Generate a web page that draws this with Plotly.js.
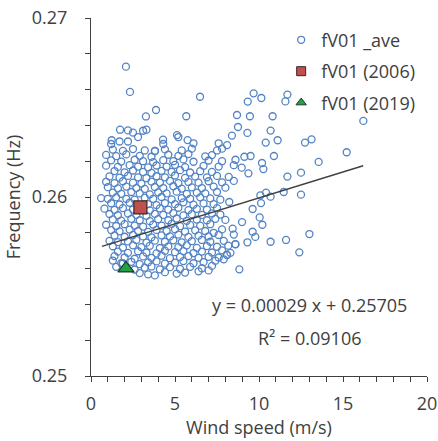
<!DOCTYPE html>
<html>
<head>
<meta charset="utf-8">
<script src="https://cdn.plot.ly/plotly-3.0.1.min.js"></script>
<style>html,body{margin:0;padding:0;background:#fff;}#chart{width:438px;height:441px;}</style>
</head>
<body>
<div id="chart"></div>
<script>
// fV01 _ave : wind speed (m/s) vs frequency (Hz)
const windSpeed = [
2.9,3.4,3.8,4.4,5.1,5.6,6.4,7.0,
1.5,1.9,2.6,3.2,3.6,4.1,4.7,5.3,5.9,6.6,7.2,
1.3,1.8,2.4,2.9,3.4,3.9,4.4,5.0,5.5,6.1,6.7,7.4,7.9,
1.4,2.0,2.6,3.1,3.6,4.2,4.7,5.3,5.8,6.4,7.0,7.6,8.1,
1.6,2.2,2.8,3.3,3.9,4.4,5.0,5.5,6.1,6.6,7.2,7.8,8.3,
1.3,1.9,2.5,3.0,3.5,4.1,4.6,5.2,5.7,6.3,6.9,7.5,8.6,
1.1,1.6,2.2,2.7,3.3,3.8,4.4,4.9,5.4,6.0,6.6,7.1,7.9,
1.4,2.0,2.5,3.1,3.6,4.2,4.7,5.2,5.8,6.4,7.0,7.6,8.5,
1.2,1.7,2.3,2.8,3.4,3.9,4.5,5.0,5.6,6.2,6.8,7.3,
0.9,1.5,2.0,2.6,3.1,3.7,4.2,4.8,5.3,5.9,6.5,7.1,
1.3,1.8,2.4,2.9,3.5,4.0,4.6,5.1,5.7,6.3,6.9,7.4,8.0,
1.1,1.6,2.2,2.7,3.3,3.8,4.3,4.9,5.5,6.0,6.6,7.2,7.7,
0.8,1.4,1.9,2.5,3.5,4.1,4.6,5.2,5.8,6.3,6.9,7.5,
1.2,1.7,2.3,3.4,3.9,4.4,5.0,5.5,6.1,6.7,7.3,
0.6,1.0,1.5,2.1,2.6,3.2,3.7,4.2,4.8,5.4,5.9,6.5,7.1,7.7,
1.3,1.8,2.4,2.9,3.5,4.0,4.5,5.1,5.7,6.3,6.8,7.5,
1.0,1.6,2.1,2.7,3.2,3.8,4.3,4.9,5.4,6.0,6.6,7.3,8.0,
0.9,1.4,1.9,2.5,3.0,3.6,4.1,4.7,5.2,5.8,6.4,7.0,7.8,8.5,
1.1,1.7,2.2,2.8,3.3,3.9,4.4,5.0,5.6,6.2,6.9,7.5,8.2,
1.4,2.0,2.5,3.1,3.6,4.2,4.8,5.3,5.9,6.5,7.2,
0.9,1.6,2.3,2.8,3.4,3.9,4.5,5.0,5.6,6.7,7.6,8.5,
1.2,1.8,2.6,3.1,3.7,4.3,4.9,5.5,6.1,7.0,7.8,8.6,
0.9,1.5,2.1,2.9,3.6,4.6,5.2,5.8,6.8,7.2,
1.3,1.9,2.5,3.2,3.8,4.4,5.4,6.0,7.5,7.8,
1.2,1.7,2.2,2.8,4.3,5.2,6.1,7.6,8.1,
1.73,2.2,2.5,3.1,3.3,1.23,4.29,5.12,5.75,6.49,3.27,3.87,2.08,2.32,5.67,3.81,
9.68,10.14,9.33,11.69,11.57,8.69,9.46,10.81,16.21,8.75,
8.39,9.31,10.69,10.40,11.11,12.74,13.13,15.22,13.55,10.89,
9.50,9.13,10.18,10.26,9.37,8.97,11.69,12.50,12.50,11.47,
10.69,10.42,10.08,10.12,9.62,10.04,10.20,8.99,9.62,9.78,
9.31,10.69,11.61,13.0,12.40,8.83,8.59,8.17,8.08,8.43,
7.80,8.23
];
const frequency = [
0.25575,0.25568,0.25562,0.2558,0.25572,0.25578,0.25585,0.2559,
0.2561,0.2563,0.25595,0.25605,0.25612,0.25596,0.25608,0.25598,0.2561,0.25602,0.25615,
0.25645,0.2563,0.25638,0.25625,0.25635,0.2564,0.25628,0.25633,0.25642,0.2563,0.25636,0.25644,0.25652,
0.2567,0.25662,0.25655,0.25668,0.2566,0.25672,0.25658,0.25665,0.2567,0.2566,0.25666,0.25662,0.25675,
0.25695,0.25688,0.25697,0.2569,0.25685,0.257,0.25692,0.25698,0.25687,0.25695,0.2569,0.25702,0.25688,
0.25725,0.25718,0.2573,0.2572,0.25727,0.25715,0.25724,0.2572,0.2573,0.25716,0.25726,0.25722,0.25735,
0.25755,0.25748,0.25752,0.2576,0.25745,0.25756,0.2575,0.25758,0.25747,0.25753,0.2576,0.2575,0.25755,
0.25785,0.25778,0.25788,0.2578,0.25775,0.25786,0.2578,0.2579,0.25777,0.25784,0.2578,0.25788,0.2579,
0.25815,0.25808,0.25818,0.2581,0.25805,0.25816,0.2581,0.2582,0.25807,0.25814,0.2581,0.258,
0.25845,0.25838,0.25848,0.2584,0.25835,0.25846,0.2584,0.2585,0.25837,0.25844,0.2584,0.25848,
0.25875,0.25868,0.25878,0.2587,0.25865,0.25876,0.2587,0.2588,0.25867,0.25874,0.2587,0.25878,0.25872,
0.25905,0.25898,0.25908,0.259,0.25895,0.25906,0.259,0.2591,0.25897,0.25904,0.259,0.25908,0.25902,
0.25935,0.25928,0.25938,0.2593,0.25925,0.25936,0.2593,0.2594,0.25927,0.25934,0.2593,0.25938,
0.25965,0.25958,0.25968,0.2596,0.25955,0.25966,0.2596,0.2597,0.25957,0.25964,0.2596,
0.25994,0.2599,0.25998,0.2599,0.25985,0.25996,0.2599,0.26,0.25987,0.25994,0.2599,0.25998,0.25992,0.25985,
0.26025,0.26018,0.26028,0.2602,0.26015,0.26026,0.2602,0.2603,0.26017,0.26024,0.2602,0.26028,
0.26055,0.26048,0.26058,0.2605,0.26045,0.26056,0.2605,0.2606,0.26047,0.26054,0.2605,0.26058,0.26052,
0.26085,0.26078,0.26088,0.2608,0.26075,0.26086,0.2608,0.2609,0.26077,0.26084,0.2608,0.26088,0.26082,0.2609,
0.26115,0.26108,0.26118,0.2611,0.26105,0.26116,0.2611,0.2612,0.26107,0.26114,0.2611,0.26118,0.26112,
0.26145,0.26138,0.26148,0.2614,0.26135,0.26146,0.2614,0.2615,0.26137,0.26144,0.2614,
0.26175,0.26168,0.26178,0.2617,0.26165,0.26176,0.2617,0.2618,0.26167,0.26174,0.2617,0.26178,
0.26205,0.26198,0.26208,0.262,0.26195,0.26206,0.262,0.2621,0.26197,0.26204,0.262,0.26208,
0.26235,0.26228,0.26238,0.2623,0.26225,0.26236,0.2623,0.2624,0.26227,0.26234,
0.26265,0.26258,0.26268,0.2626,0.26257,0.26266,0.2626,0.2627,0.2626,0.2627,
0.26296,0.2631,0.2631,0.26335,0.26296,0.26335,0.263,0.263,0.2629,
0.26376,0.26372,0.2636,0.2637,0.26376,0.26317,0.2632,0.26346,0.26318,0.2656,0.2645,0.26486,0.26728,0.26587,0.26451,0.26257,
0.26579,0.26553,0.26533,0.26572,0.26534,0.26458,0.26451,0.26451,0.26425,0.26391,
0.26343,0.26358,0.26371,0.26304,0.26317,0.26304,0.26322,0.2625,0.26196,0.26229,
0.26229,0.26225,0.2619,0.26156,0.26132,0.26164,0.26114,0.26136,0.26013,0.26028,
0.26002,0.26024,0.26009,0.25966,0.25933,0.25886,0.25845,0.2586,0.25806,0.25777,
0.25747,0.2575,0.2576,0.25793,0.25691,0.25596,0.25737,0.25728,0.25678,0.25823,
0.25819,0.25972
];
// single-year values
const wind2006 = [2.94];
const freq2006 = [0.25942];
const wind2019 = [2.08];
const freq2019 = [0.25601];
// linear trendline y = 0.00029 x + 0.25705 (endpoints)
const trendX = [0.65, 16.2];
const trendY = [0.257239, 0.261748];
const seriesNames = ['fV01 _ave', 'fV01 (2006)', 'fV01 (2019)'];
const xTickVals = [0,1,2,3,4,5,6,7,8,9,10,11,12,13,14,15,16,17,18,19,20];
const xTickText = ['0','','','','','5','','','','','10','','','','','15','','','','','20'];
const yTickVals = [0.25,0.252,0.254,0.256,0.258,0.26,0.262,0.264,0.266,0.268,0.27];
const yTickText = ['0.25','','','','','0.26','','','','','0.27'];

const FONT = 'Open Sans, Noto Sans, sans-serif';
const TXT = '#404040';

const traces = [
  {x: windSpeed, y: frequency, type: 'scatter', mode: 'markers', name: seriesNames[0],
   marker: {symbol: 'circle-open', size: 7, color: '#5283c4', line: {width: 1.3}}, legendgroup: 'a'},
  {x: trendX, y: trendY, type: 'scatter', mode: 'lines', showlegend: false,
   line: {color: '#404040', width: 1.4}},
  {x: [null], y: [null], type: 'scatter', mode: 'markers', name: seriesNames[1], legendgroup: 'b',
   marker: {symbol: 'square', size: 9, color: '#c0504d', line: {color: '#3a2626', width: 1}}},
  {x: [null], y: [null], type: 'scatter', mode: 'markers', name: seriesNames[2], legendgroup: 'c',
   marker: {symbol: 'triangle-up', size: 9, color: '#22a04a', line: {color: '#1f3a24', width: 1}}},
  {x: wind2006, y: freq2006, type: 'scatter', mode: 'markers', showlegend: false,
   marker: {symbol: 'square', size: 13, color: '#c0504d', line: {color: '#3a2626', width: 1.2}}},
  {x: wind2019, y: freq2019, type: 'scatter', mode: 'markers', showlegend: false,
   marker: {symbol: 'triangle-up', size: 14, color: '#22a04a', line: {color: '#1f3a24', width: 1.2}}}
];

const layout = {
  width: 438, height: 441,
  margin: {l: 91, r: 11, t: 18, b: 65, pad: 0},
  paper_bgcolor: '#fff', plot_bgcolor: '#fff',
  font: {family: FONT, color: TXT, size: 18},
  showlegend: true,
  legend: {x: 0.566, y: 0.99, xanchor: 'left', yanchor: 'top', bgcolor: 'rgba(0,0,0,0)',
           font: {family: FONT, size: 18, color: TXT}, itemwidth: 30, tracegroupgap: 5},
  xaxis: {range: [0, 20], showgrid: false, zeroline: false, showline: true, linecolor: '#404040', linewidth: 1,
          ticks: 'outside', ticklen: 5, tickcolor: '#404040', tickvals: xTickVals, ticktext: xTickText,
          tickfont: {size: 18, color: TXT}, ticklabelstandoff: 6,
          title: {text: 'Wind speed (m/s)', font: {size: 18, color: TXT}, standoff: 6}},
  yaxis: {range: [0.25, 0.27], showgrid: false, zeroline: false, showline: true, linecolor: '#404040', linewidth: 1,
          ticks: 'outside', ticklen: 5, tickcolor: '#404040', tickvals: yTickVals, ticktext: yTickText,
          tickfont: {size: 18, color: TXT}, ticklabelstandoff: 14,
          title: {text: 'Frequency (Hz)', font: {size: 18, color: TXT}, standoff: 6}},
  annotations: [
    {xref: 'paper', yref: 'paper', x: 0.649, y: 0.198, xanchor: 'center', yanchor: 'middle', showarrow: false,
     text: 'y = 0.00029 x + 0.25705', font: {size: 18, color: TXT, family: FONT}},
    {xref: 'paper', yref: 'paper', x: 0.652, y: 0.106, xanchor: 'center', yanchor: 'middle', showarrow: false,
     text: 'R² = 0.09106', font: {size: 18, color: TXT, family: FONT}}
  ]
};

Plotly.newPlot('chart', traces, layout, {displayModeBar: false, staticPlot: true});
</script>
</body>
</html>
